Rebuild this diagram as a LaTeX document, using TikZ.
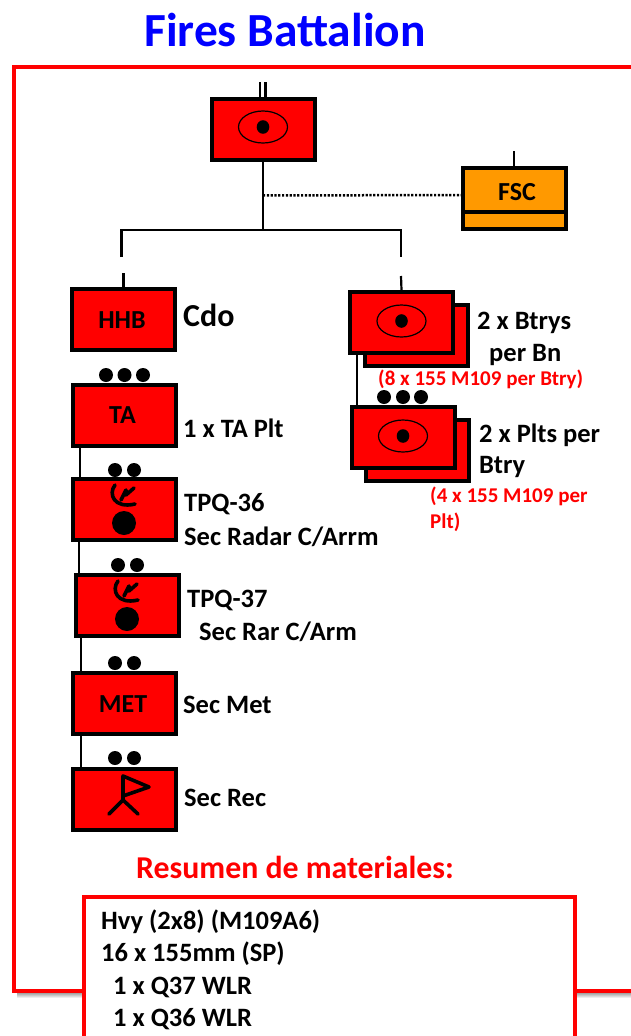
\documentclass[tikz,border=0pt]{standalone}
\usepackage{fontspec}
\setmainfont{Carlito}
\usetikzlibrary{
    positioning,
    calc
}
\definecolor{ink}{RGB}{0,0,0}
\definecolor{framered}{RGB}{255,0,0}
\definecolor{unitred}{RGB}{255,0,0}
\definecolor{supportorange}{RGB}{255,153,0}
\definecolor{titleblue}{RGB}{0,0,255}
\definecolor{shade}{RGB}{190,190,190}
\tikzset{
    unit/.style={
        rectangle,
        draw=ink,
        line width=4pt,
        fill=unitred,
        text=ink,
        minimum width=103pt,
        minimum height=61pt,
        inner sep=0pt,
        font=\fontsize{26}{26}\selectfont\bfseries
    },
    unitlabel/.style={inner sep=0pt, font=\fontsize{26}{26}\selectfont\bfseries},
    support/.style={unit, fill=supportorange},
    link/.style={draw=ink, line width=2.2pt},
    dotlink/.style={draw=ink, line width=2.5pt, dash pattern=on 2.2pt off 1.6pt},
    pip/.style={circle, fill=ink, inner sep=0pt, minimum size=14pt},
    eye/.style={draw=ink, line width=1.2pt},
    glyph/.style={draw=ink, line width=3.6pt, line cap=round, line join=round},
    caption/.style={anchor=west, inner sep=0pt, font=\fontsize{26.5}{28}\selectfont\bfseries, text=ink},
    note/.style={anchor=west, inner sep=0pt, font=\fontsize{21}{22}\selectfont\bfseries, text=framered},
    frameline/.style={draw=framered, line width=4pt}
}
\begin{document}
\begin{tikzpicture}[x=1pt, y=-1pt]
\useasboundingbox (0,0) rectangle (631,1036);

% frame
\fill[shade] (17,991) rectangle (631,998);
\draw[frameline] (640,66.5) -| (14,991) -- (640,991);

\node[anchor=center, inner sep=0pt, font=\fontsize{47.5}{48}\selectfont\bfseries, text=titleblue] (title) at (285,30) {Fires Battalion};

% battalion and fsc
\node[unit] (bn) at (263.5,129) {};
\node[support] (fsc) at (514.5,198) {};
\node[unitlabel] (fsctext) at (517,192) {FSC};
\coordinate (fscbar) at ($(fsc.west)+(0,14)$);
\draw[line width=3.5pt, draw=ink] (fscbar) -- (fscbar -| fsc.east);
\coordinate (fsctop) at (514,151);
\draw[link] (fsctop) -- (fsc.north -| fsctop);

\coordinate (bntopa) at (260,82);
\coordinate (bntopb) at (265.5,82);
\draw[link] (bntopa) -- (bntopa |- bn.north);
\draw[link] (bntopb) -- (bntopb |- bn.north);

% stacked batteries, back one first
\node[unit] (btryback) at (416.5,335) {};
\node[unit] (btry) at (401.5,322.5) {};
\node[unit] (pltback) at (417.5,450.5) {};
\node[unit] (plt) at (403,437.5) {};

\node[unit] (hhb) at (123.5,319.5) {};
\node[unitlabel] (hhbtext) at (122,320) {HHB};
\node[unit] (ta) at (124.5,415.5) {};
\node[unitlabel] (tatext) at (122.5,415) {TA};
\node[unit] (qa) at (124.5,509.5) {};
\node[unit] (qb) at (127.5,605.5) {};
\node[unit] (met) at (124.5,703) {};
\node[unitlabel] (mettext) at (123,704) {MET};
\node[unit] (rec) at (124.5,799) {};

% connectors
\coordinate (fork) at (263,230);
\coordinate (forkl) at (121.5,230);
\coordinate (forkr) at (401,230);
\coordinate (dropl) at (121.5,257);
\coordinate (dropr) at (401,257);
\draw[link] (bn.south -| fork) -- (fork);
\draw[link] (dropl) -- (forkl) -- (forkr) -- (dropr);
\draw[dotlink] (bn.south -| fork) ++(0,34) -- (fsc.west |- 0,195);

\coordinate (hhbtop) at (123.5,273);
\coordinate (btrytop) at (401,276);
\draw[link] (hhbtop) -- (hhb.north);
\draw[link] (btrytop) -- (btry.north);

\coordinate (btrylink) at (357,355);
\draw[link] (btrylink) -- (btrylink |- plt.north);
\foreach \from/\to/\xx in {ta/qa/80, qa/qb/79, qb/met/81, met/rec/81} {
    \draw[link] (\xx,0 |- \from.south) -- (\xx,0 |- \to.north);
}

% echelon dots
\foreach \name/\xx/\yy in {
    pa/106/375, pb/124.5/375, pc/143/375,
    pd/115/470, pe/134/470,
    pf/118/565, pg/137/565,
    ph/115/663, pi/134/663,
    pj/115/758, pk/134/758,
    pl/384/397, pm/403/397, pn/421/397
} {
    \node[pip] (\name) at (\xx,\yy) {};
}

% eyes
\foreach \xx/\yy in {263/127, 401.5/321, 403/436} {
    \draw[eye] (\xx,\yy) ellipse (24.5pt and 16pt);
    \fill[ink] (\xx,\yy) ellipse (6.3pt and 6.8pt);
}

% radar symbols
\foreach \xx/\yy in {124/523, 127/619} {
    \begin{scope}[shift={(\xx,\yy)}]
        \fill[ink] (0,0) circle (12pt);
        \draw[glyph] (-9,-38) .. controls (-16,-29) and (-10,-14) .. (11,-19);
        \draw[glyph] (-3,-23) -- (2,-33) -- (2,-28) -- (10,-35);
    \end{scope}
}

% recon symbol
\draw[glyph] (123,800) -- (123,776) -- (149,787) -- (123,796);
\draw[glyph] (109,814) -- (123,800) -- (138,814);

% captions
\node[caption, font=\fontsize{32}{32}\selectfont\bfseries] (cdo) at (183,315) {Cdo};
\node[caption] (tacap) at (183,428) {1 x TA Plt};
\node[caption] (qacap) at (184,504) {TPQ-36};
\node[caption] (qasec) at (184,537) {Sec Radar C/Arrm};
\node[caption] (qbcap) at (187,600) {TPQ-37};
\node[caption] (qbsec) at (199,632) {Sec Rar C/Arm};
\node[caption] (metcap) at (183,705) {Sec Met};
\node[caption] (reccap) at (184,798) {Sec Rec};
\node[caption] (btrycap) at (477,323) {2 x Btrys};
\node[caption] (btrysub) at (489,355) {per Bn};
\node[note] (btrynote) at (378,379) {(8 x 155 M109 per Btry)};
\node[caption] (pltcap) at (479,435) {2 x Plts per};
\node[caption] (pltsub) at (479,467) {Btry};
\node[note] (pltnote) at (430,496) {(4 x 155 M109 per};
\node[note] (pltnoteb) at (430,522) {Plt)};

% summary
\node[anchor=center, inner sep=0pt, font=\fontsize{31.8}{32}\selectfont\bfseries, text=framered] (sumtitle) at (295,867) {Resumen de materiales:};
\node[draw=framered, fill=white, line width=4pt, minimum width=491pt, minimum height=160pt, anchor=north west, inner sep=0pt] (sumbox) at (82,895) {};
\foreach \name/\xx/\yy/\txt in {
    sa/101/922/{Hvy (2x8) (M109A6)},
    sb/101/954/{16 x 155mm (SP)},
    sc/113/987/{1 x Q37 WLR},
    sd/113/1019/{1 x Q36 WLR}
} {
    \node[caption] (\name) at (\xx,\yy) {\txt};
}
\end{tikzpicture}
\end{document}
